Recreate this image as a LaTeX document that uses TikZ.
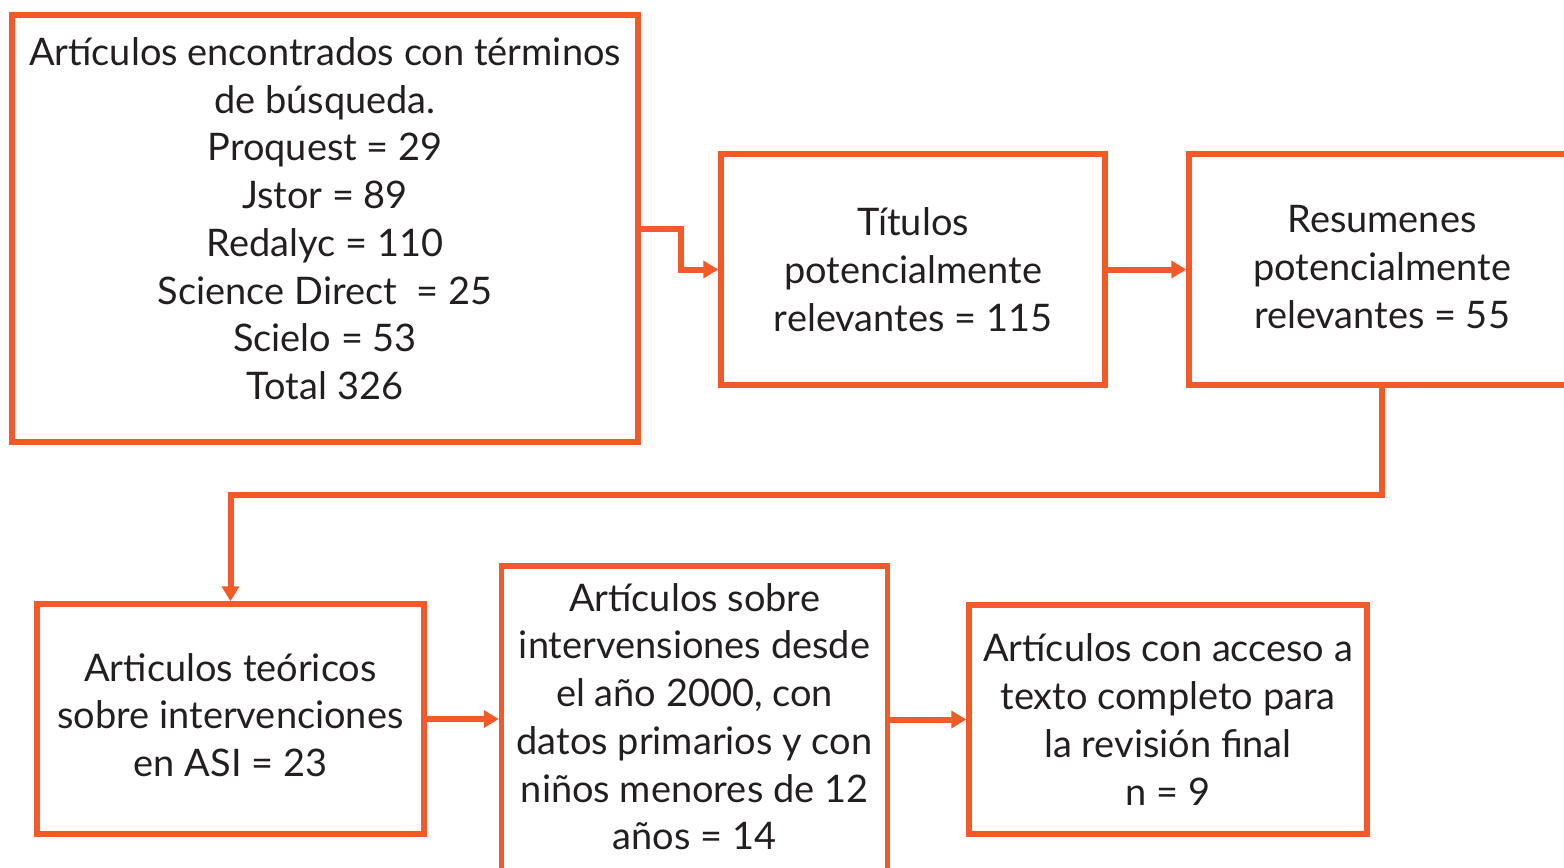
\documentclass[tikz,border=0pt]{standalone}
\usepackage{fontspec}
\setmainfont{Lato}
\usepackage{tikz}
\usetikzlibrary{arrows.meta, positioning}
\definecolor{naranja}{RGB}{242,90,41}
\definecolor{tinta}{RGB}{35,31,32}

\begin{document}
\begin{tikzpicture}[x=0.02cm, y=-0.02cm,
    caja/.style={draw=naranja, line width=0.11cm, rectangle, align=center,
                 text=tinta, inner sep=0pt,
                 font=\fontsize{21.6pt}{27.2pt}\selectfont},
    flecha/.style={draw=naranja, line width=0.12cm,
                   -{Triangle[length=0.3cm,width=0.34cm]}}]
\useasboundingbox (0,0) rectangle (1564,867);
\clip (0,0) rectangle (1564,867);
%
\node[caja, minimum width=12.52cm, minimum height=8.54cm] (busqueda) at (325,228.5)
  {Artículos encontrados con términos\\ de búsqueda.\\ Proquest = 29\\ Jstor = 89\\
   Redalyc = 110\\ Science Direct\ \ = 25\\ Scielo = 53\\
   Total 326\rule[-0.4cm]{0pt}{0.4cm}};
\node[caja, minimum width=7.68cm, minimum height=4.62cm] (titulos) at (913,269.5)
  {Títulos\\ potencialmente\\ relevantes = 115};
\node[caja, minimum width=7.72cm, minimum height=4.62cm] (resumenes) at (1382,269.5)
  {Resumenes\\ potencialmente\\ relevantes = 55\rule[-0.1cm]{0pt}{0.1cm}};
%
\node[caja, minimum width=7.74cm, minimum height=4.6cm] (teoricos) at (230.5,719)
  {Articulos teóricos\\ sobre intervenciones\\ en ASI = 23\rule[-0.16cm]{0pt}{0.16cm}};
\node[caja, minimum width=7.72cm, minimum height=6.28cm] (primarios) at (694.5,723)
  {Artículos sobre\\ intervensiones desde\\ el año 2000, con\\ datos primarios y con\\
   niños menores de 12\\ años = 14\rule[-0.26cm]{0pt}{0.26cm}};
\node[caja, minimum width=7.96cm, minimum height=4.58cm] (completo) at (1168,719.5)
  {Artículos con acceso a\\ texto completo para\\ la revisión final\\ n = 9};
%
\draw[flecha] (busqueda.east) -- ++(40,0) |- (titulos.west);
\draw[flecha] (titulos.east) -- (resumenes.west);
\draw[flecha] (resumenes.south) -- ++(0,107) -| (teoricos.north);
\draw[flecha] (teoricos.east) -- (teoricos.east -| primarios.west);
\draw[flecha] (primarios.east |- completo.west) -- (completo.west);
%
\end{tikzpicture}
\end{document}
